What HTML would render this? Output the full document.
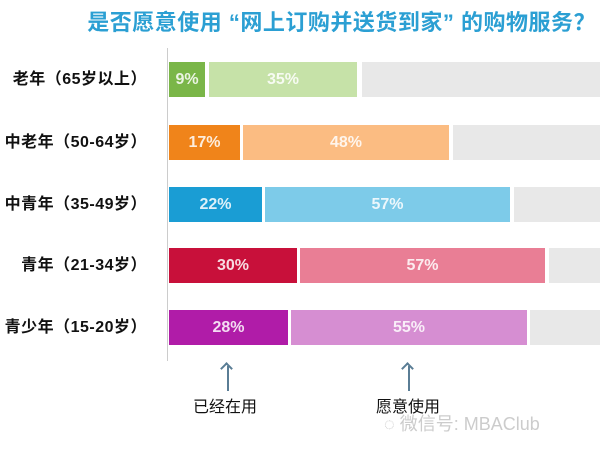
<!DOCTYPE html>
<html><head><meta charset="utf-8"><style>
body{margin:0;width:600px;height:452px;background:#fff;position:relative;overflow:hidden;font-family:"Liberation Sans","Noto Sans CJK SC",sans-serif}
.a{position:absolute}
.t{left:0;width:600px;top:5px;text-align:right;padding-right:4px;box-sizing:border-box;font-size:22px;font-weight:bold;color:#2b9fd3;white-space:nowrap;letter-spacing:0.5px}
.l{left:0;width:147px;text-align:right;font-size:16px;font-weight:bold;color:#111;height:35px;line-height:35px;white-space:nowrap;letter-spacing:0.5px}
.b{height:35px;line-height:35px;text-align:center;color:rgba(255,255,255,0.85);font-weight:bold;font-size:16px}
.g{background:#e8e8e8}
.ar{width:2px;background:#5a7d95}
.lab{font-size:16px;color:#111}
</style></head><body>
<div class="a t">是否愿意使用 “网上订购并送货到家” 的购物服务？</div>
<div class="a" style="left:167px;top:48px;width:1px;height:313px;background:#ccc"></div>

<div class="a l" style="top:62px">老年（65岁以上）</div>
<div class="a b" style="top:62px;left:169px;width:36px;background:#7ab648">9%</div>
<div class="a b" style="top:62px;left:209px;width:148px;background:#c6e2a8">35%</div>
<div class="a b g" style="top:62px;left:362px;width:238px"></div>

<div class="a l" style="top:125px">中老年（50-64岁）</div>
<div class="a b" style="top:125px;left:169px;width:71px;background:#f0841a">17%</div>
<div class="a b" style="top:125px;left:243px;width:206px;background:#fbbc82">48%</div>
<div class="a b g" style="top:125px;left:453px;width:147px"></div>

<div class="a l" style="top:187px">中青年（35-49岁）</div>
<div class="a b" style="top:187px;left:169px;width:93px;background:#1a9dd4">22%</div>
<div class="a b" style="top:187px;left:265px;width:245px;background:#7dcbe9">57%</div>
<div class="a b g" style="top:187px;left:514px;width:86px"></div>

<div class="a l" style="top:248px">青年（21-34岁）</div>
<div class="a b" style="top:248px;left:169px;width:128px;background:#c8103a">30%</div>
<div class="a b" style="top:248px;left:300px;width:245px;background:#e97e95">57%</div>
<div class="a b g" style="top:248px;left:549px;width:51px"></div>

<div class="a l" style="top:310px">青少年（15-20岁）</div>
<div class="a b" style="top:310px;left:169px;width:119px;background:#b01ca8">28%</div>
<div class="a b" style="top:310px;left:291px;width:236px;background:#d68ed2">55%</div>
<div class="a b g" style="top:310px;left:530px;width:70px"></div>

<div class="a ar" style="left:227px;top:366px;height:25px"></div>
<div class="a" style="left:222px;top:364px;width:7px;height:7px;border-left:2px solid #5a7d95;border-top:2px solid #5a7d95;transform:rotate(45deg)"></div>
<div class="a ar" style="left:408px;top:366px;height:25px"></div>
<div class="a" style="left:403px;top:364px;width:7px;height:7px;border-left:2px solid #5a7d95;border-top:2px solid #5a7d95;transform:rotate(45deg)"></div>
<div class="a lab" style="left:193px;top:393px">已经在用</div>
<div class="a lab" style="left:376px;top:393px">愿意使用</div>
<div class="a" style="left:384px;top:410px;font-size:18px;color:#ccc">◌ 微信号: MBAClub</div>
</body></html>
